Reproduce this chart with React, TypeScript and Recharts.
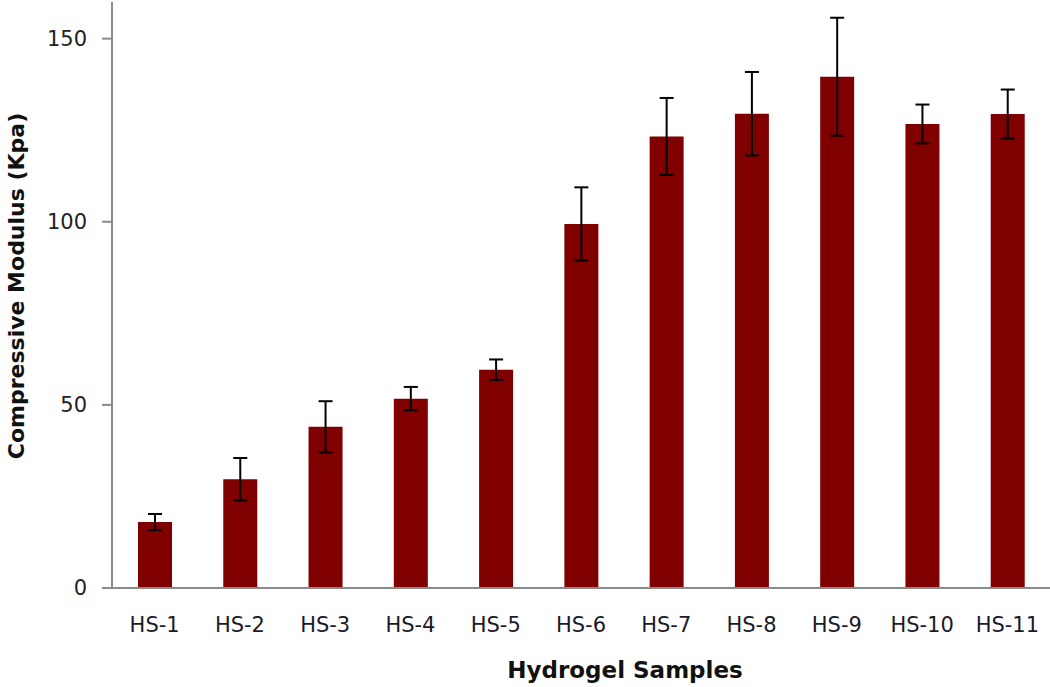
import { Bar, BarChart, ErrorBar, XAxis, YAxis } from "recharts";

const samples = ["HS-1", "HS-2", "HS-3", "HS-4", "HS-5", "HS-6", "HS-7", "HS-8", "HS-9", "HS-10", "HS-11"];
const modulus = [18, 29.7, 44, 51.7, 59.6, 99.4, 123.3, 129.5, 139.6, 126.7, 129.4];
const modulusError = [2.2, 5.8, 7, 3.2, 2.8, 10, 10.5, 11.4, 16.1, 5.3, 6.7];
const yTicks = [0, 50, 100, 150];

const data = samples.map((name, i) => ({
  name,
  value: modulus[i],
  err: modulusError[i],
}));

const font = "'DejaVu Sans', Verdana, sans-serif";

export default function App() {
  return (
    <div style={{ position: "absolute", left: 0, top: 0, background: "#fff" }}>
      <BarChart width={1050} height={687} data={data} margin={{ top: 2, right: 0, bottom: 0, left: 0 }}>
        <XAxis
          dataKey="name"
          height={99}
          stroke="#8a8a8a"
          strokeWidth={2}
          tickLine={false}
          tickSize={0}
          tickMargin={29}
          tick={{ fill: "#1a1a2a", fontSize: 21, fontFamily: font }}
          label={{
            value: "Hydrogel Samples",
            position: "insideBottom",
            offset: 9,
            dx: 44,
            fill: "#111",
            fontSize: 23,
            fontWeight: "bold",
            fontFamily: font,
          }}
        />
        <YAxis
          width={112}
          domain={[0, 160]}
          ticks={yTicks}
          stroke="#8a8a8a"
          strokeWidth={2}
          tickSize={10}
          tickMargin={15}
          tick={{ fill: "#222", fontSize: 21, fontFamily: font }}
          label={{
            value: "Compressive Modulus (Kpa)",
            angle: -90,
            position: "center",
            dx: -40,
            dy: -9,
            fill: "#111",
            fontSize: 22,
            fontWeight: "bold",
            fontFamily: font,
          }}
        />
        <Bar dataKey="value" fill="#800000" barSize={34} isAnimationActive={false}>
          <ErrorBar dataKey="err" width={7} stroke="#000" strokeWidth={2} direction="y" />
        </Bar>
      </BarChart>
    </div>
  );
}
